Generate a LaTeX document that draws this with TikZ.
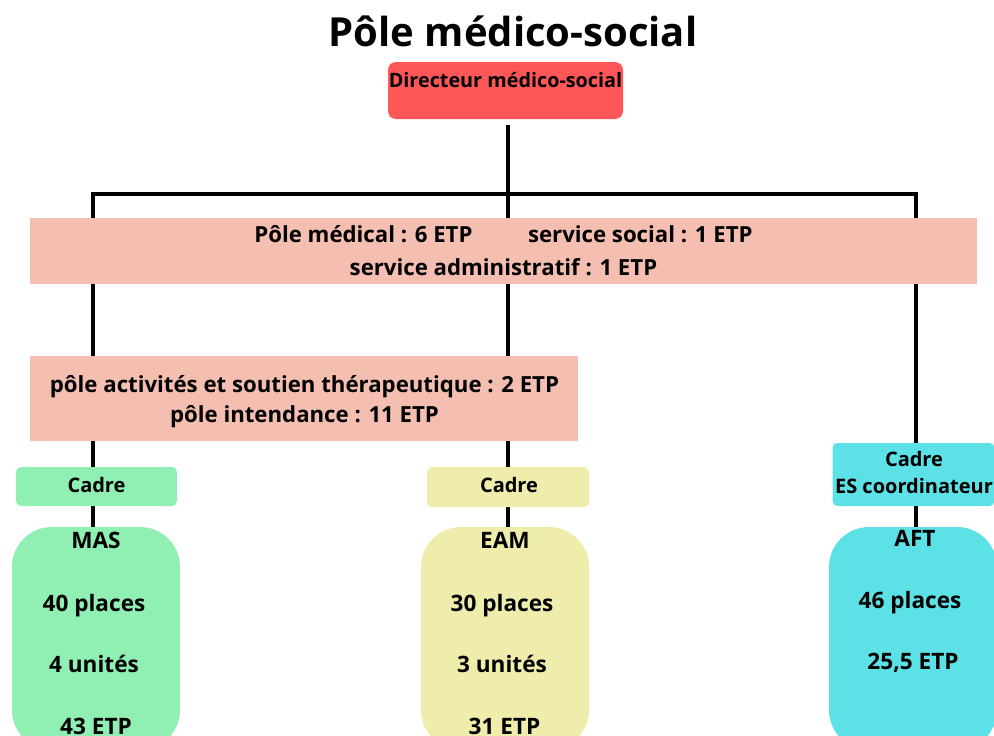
\documentclass[tikz,border=0pt]{standalone}
\usepackage{fontspec}
\setmainfont{Open Sans}
\usetikzlibrary{backgrounds}
\definecolor{dirred}{HTML}{FF5757}
\definecolor{pinkc}{HTML}{F4BEB0}
\definecolor{greenc}{HTML}{90EFB2}
\definecolor{yellowc}{HTML}{EEEDAB}
\definecolor{cyanc}{HTML}{5CE1E6}
\begin{document}
\begin{tikzpicture}[x=1pt,y=-1pt,
  txt/.style={font=\bfseries\fontsize{22.2}{26}\selectfont, inner sep=0pt, anchor=base},
  coltxt/.style={txt, font=\bfseries\fontsize{22.6}{26}\selectfont},
  cadtxt/.style={txt, font=\bfseries\fontsize{20}{24}\selectfont},
  conn/.style={line width=3.5pt, black},
  box/.style={draw=none, inner sep=0pt, rectangle},
  cadrebox/.style={box, rounded corners=5pt},
  colbox/.style={box, rounded corners=40pt, minimum width=168pt, minimum height=223pt}]
\useasboundingbox (0,0) rectangle (994,736);
\clip (0,0) rectangle (994,736);

% title
\node[txt, font=\bfseries\fontsize{40}{44}\selectfont] (title) at (513,46) {Pôle médico-social};

% director
\node[box, fill=dirred, rounded corners=8pt, minimum width=235pt, minimum height=57pt] (dir) at (505.5,90.5) {};
\node[txt, font=\bfseries\fontsize{19.8}{23}\selectfont] (dirt) at (505.5,87) {Directeur médico-social};

% pink boxes
\node[box, fill=pinkc, minimum width=947pt, minimum height=66pt] (p1) at (503.5,251) {};
\node[txt] (p1a) at (503.5,242) {Pôle médical : 6 ETP\hspace{2.5em}service social : 1 ETP};
\node[txt] (p1b) at (503.5,275) {service administratif : 1 ETP};

\node[box, fill=pinkc, minimum width=548pt, minimum height=85pt] (p2) at (304,398.5) {};
\node[txt] (p2a) at (304.5,392) {pôle activités et soutien thérapeutique : 2 ETP};
\node[txt] (p2b) at (304.5,422) {pôle intendance : 11 ETP};

% cadres
\node[cadrebox, fill=greenc, minimum width=161pt, minimum height=39pt] (mcad) at (96.5,486.5) {};
\node[cadtxt] (mcadt) at (96.5,492) {Cadre};
\node[cadrebox, fill=yellowc, minimum width=162pt, minimum height=40pt] (ecad) at (508,487) {};
\node[cadtxt] (ecadt) at (509,492) {Cadre};
\node[cadrebox, fill=cyanc, minimum width=162pt, minimum height=63pt] (acad) at (913.5,474.5) {};
\node[cadtxt] (acadt1) at (914,466) {Cadre};
\node[cadtxt] (acadt2) at (914,493) {ES coordinateur};

% columns
\node[colbox, fill=greenc] (mas) at (96,638.5) {};
\node[coltxt] (mas1) at (96,548) {MAS};
\node[coltxt] (mas2) at (94,611) {40 places};
\node[coltxt] (mas3) at (94,672) {4 unités};
\node[coltxt] (mas4) at (96,734) {43 ETP};

\node[colbox, fill=yellowc] (eam) at (505,638.5) {};
\node[coltxt] (eam1) at (505,548) {EAM};
\node[coltxt] (eam2) at (502,611) {30 places};
\node[coltxt] (eam3) at (502,672) {3 unités};
\node[coltxt] (eam4) at (504.5,734) {31 ETP};

\node[colbox, fill=cyanc] (aft) at (913,638.5) {};
\node[coltxt] (aft1) at (915,546) {AFT};
\node[coltxt] (aft2) at (910,608) {46 places};
\node[coltxt] (aft3) at (913,669) {25,5 ETP};

% connectors
\coordinate (xl) at (93,0);
\coordinate (xr) at (916,0);
\coordinate (bar) at (508,194);
\begin{scope}[on background layer]
  \draw[conn, shorten <=6pt] (dir.south -| ecad.north) -- (ecad.north);
  \draw[conn] (mcad.north -| xl) -- (bar -| xl) -- (bar -| xr) -- (acad.north -| xr);
  \draw[conn] (mcad.south -| xl) -- (mas.north -| xl);
  \draw[conn] (ecad.south) -- (eam.north -| ecad.south);
  \draw[conn] (acad.south -| xr) -- (aft.north -| xr);
\end{scope}
\end{tikzpicture}
\end{document}
